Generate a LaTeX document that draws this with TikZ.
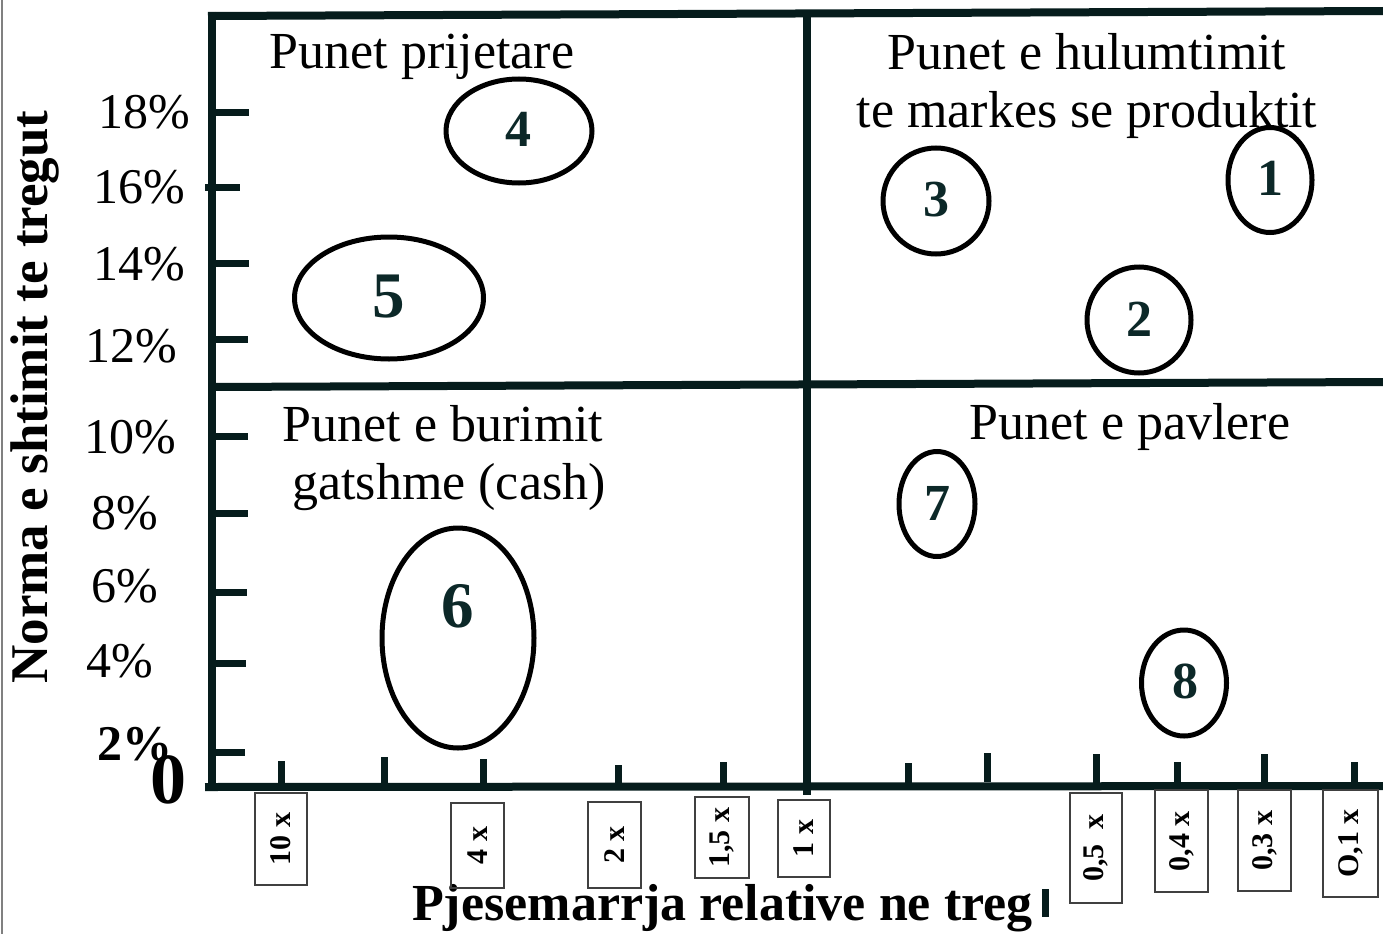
\documentclass[tikz,border=0pt]{standalone}
\usepackage{fontspec}
\setmainfont{Liberation Serif}
\usetikzlibrary{shapes.geometric}
\definecolor{ax}{RGB}{6,28,28}
\definecolor{num}{RGB}{12,40,40}
\begin{document}
\begin{tikzpicture}[x=1pt,y=-1pt,
  axisline/.style={draw=ax, line width=8pt},
  tickline/.style={draw=ax, line width=7pt},
  blob/.style={draw=black, line width=5pt, ellipse, inner sep=0pt},
  numlbl/.style={font=\fontsize{52}{52}\selectfont\bfseries, text=num, inner sep=0pt},
  bignum/.style={font=\fontsize{65}{65}\selectfont\bfseries, text=num, inner sep=0pt},
  ylbl/.style={font=\fontsize{50}{50}\selectfont, anchor=base east, inner sep=0pt},
  qtitle/.style={font=\fontsize{52}{52}\selectfont, anchor=base, inner sep=0pt},
  xbox/.style={draw=black!75, line width=1.2pt, inner sep=0pt, font=\fontsize{30}{30}\selectfont\bfseries}]
\useasboundingbox (0,0) rectangle (1383,934);
\fill[white] (0,0) rectangle (1383,934);
\draw[gray, line width=2pt] (2,0) -- (2,934);

% axes and quadrant lines
\coordinate (tl) at (208,16);
\coordinate (tr) at (1383,11);
\coordinate (bl) at (205,787);
\coordinate (br) at (1383,786);
\coordinate (lt) at (212,12);
\coordinate (lb) at (212,791);
\coordinate (mt) at (807,12);
\coordinate (mb) at (807,795);
\coordinate (ml) at (212,387);
\coordinate (mr) at (1383,382);
\draw[axisline] (tl) -- (tr);
\draw[axisline] (lt) -- (lb);
\draw[axisline] (bl) -- (br);
\draw[axisline] (mt) -- (mb);
\draw[axisline] (ml) -- (mr);

% y ticks
\foreach \y/\a/\b in {112/212/249, 187/205/240, 263/212/249, 339/212/248, 436/212/248, 513/212/248, 592/212/247, 663/212/246, 752/212/245}{
  \draw[tickline] (\a,\y) -- (\b,\y);
}
% x ticks
\foreach \x/\t/\e in {281/761/787, 384/757/787, 483/759/787, 618/765/787, 723/762/787, 908/763/787, 987/753/782, 1096/754/787, 1177/762/787, 1264/754/787, 1354/762/787}{
  \draw[tickline] (\x,\t) -- (\x,\e);
}

% y labels
\node[ylbl] (y18) at (190,128) {18\%};
\node[ylbl] (y16) at (185,203) {16\%};
\node[ylbl] (y14) at (185,280) {14\%};
\node[ylbl] (y12) at (177,362) {12\%};
\node[ylbl] (y10) at (176,453) {10\%};
\node[ylbl] (y8) at (158,529) {8\%};
\node[ylbl] (y6) at (158,602) {6\%};
\node[ylbl] (y4) at (153,677) {4\%};
\node[ylbl, font=\fontsize{50}{50}\selectfont\bfseries] (y2) at (173,760) {2\%};
\node[anchor=base, inner sep=0pt, font=\fontsize{72}{72}\selectfont\bfseries] (zero) at (168,803) {0};

% axis titles
\node[rotate=90, inner sep=0pt, font=\fontsize{53}{53}\selectfont\bfseries] (ytitle) at (35,397) {Norma e shtimit te tregut};
\node[anchor=base west, inner sep=0pt, font=\fontsize{52}{52}\selectfont\bfseries] (xtitle) at (412,920) {Pjesemarrja relative ne treg};
\fill[ax] (1042,889) rectangle (1049,917);

% quadrant titles
\node[qtitle] (q1) at (422,68) {Punet prijetare};
\node[qtitle] (q2a) at (1087,70) {Punet e hulumtimit};
\node[qtitle] (q2b) at (1087,127) {te markes se produktit};
\node[qtitle] (q3a) at (443,441) {Punet e burimit};
\node[qtitle] (q3b) at (449,499) {gatshme (cash)};
\node[qtitle] (q4) at (1130,439) {Punet e pavlere};

% ellipses
\node[blob, minimum width=84pt, minimum height=105pt] (e1) at (1270,180) {};
\node[blob, minimum width=104pt, minimum height=106pt] (e2) at (1139,320) {};
\node[blob, minimum width=106pt, minimum height=106pt] (e3) at (936,201) {};
\node[blob, minimum width=146pt, minimum height=104pt] (e4) at (519,131) {};
\node[blob, minimum width=189pt, minimum height=122pt] (e5) at (389,298) {};
\node[blob, minimum width=152pt, minimum height=220pt] (e6) at (458,638) {};
\node[blob, minimum width=76pt, minimum height=105pt] (e7) at (937,504) {};
\node[blob, minimum width=85pt, minimum height=106pt] (e8) at (1184,683) {};

\node[numlbl] (n1) at (1270,178) {1};
\node[numlbl] (n2) at (1139,319) {2};
\node[numlbl] (n3) at (936,200) {3};
\node[numlbl] (n4) at (518,129) {4};
\node[bignum] (n5) at (389,297) {5};
\node[bignum] (n6) at (458,606) {6};
\node[numlbl] (n7) at (937,503) {7};
\node[numlbl] (n8) at (1185,681) {8};

% x boxes
\node[xbox, minimum width=52pt, minimum height=92pt] (b10) at (281,839) {\rotatebox{90}{10 x}};
\node[xbox, minimum width=53pt, minimum height=85pt] (b4) at (477.5,845.5) {\rotatebox{90}{4 x}};
\node[xbox, minimum width=53pt, minimum height=86pt] (b2) at (614.5,845) {\rotatebox{90}{2 x}};
\node[xbox, minimum width=54pt, minimum height=81pt] (b15) at (722,837.5) {\rotatebox{90}{1,5 x}};
\node[xbox, minimum width=52pt, minimum height=77pt] (b1) at (804,838.5) {\rotatebox{90}{1 x}};
\node[xbox, minimum width=52pt, minimum height=110pt] (b05) at (1096,848) {\rotatebox{90}{0,5\ \ x}};
\node[xbox, minimum width=53pt, minimum height=102pt] (b04) at (1181.5,841) {\rotatebox{90}{0,4 x}};
\node[xbox, minimum width=53pt, minimum height=101pt] (b03) at (1264.5,840.5) {\rotatebox{90}{0,3 x}};
\node[xbox, minimum width=55pt, minimum height=107pt] (b01) at (1350.5,843.5) {\rotatebox{90}{O,1 x}};
\end{tikzpicture}
\end{document}
